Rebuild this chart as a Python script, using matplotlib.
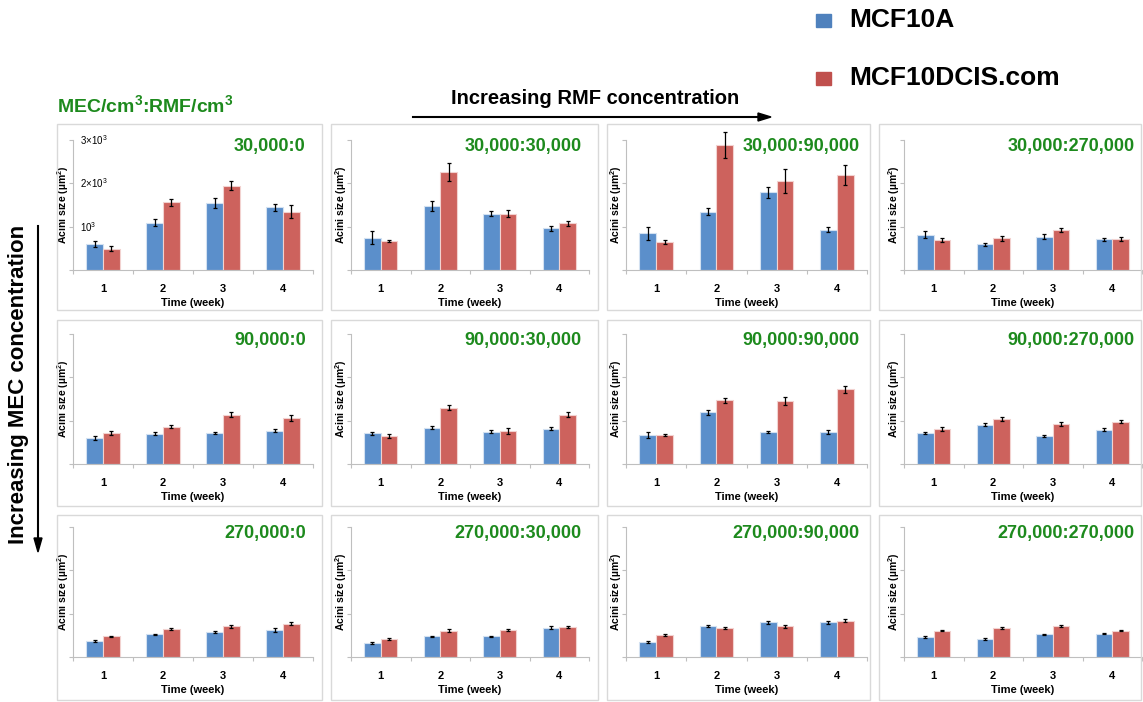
import matplotlib.pyplot as plt
from matplotlib.patches import Rectangle
import numpy as np

plt.rcParams['font.family'] = ['Liberation Sans', 'DejaVu Sans']
plt.rcParams['mathtext.fontset'] = 'custom'
plt.rcParams['mathtext.rm'] = 'Liberation Sans'
plt.rcParams['mathtext.bf'] = 'Liberation Sans:bold'

weeks = ['1', '2', '3', '4']
mec_levels = ['30,000', '90,000', '270,000']
rmf_levels = ['0', '30,000', '90,000', '270,000']

# mean acini size (um^2), one list per panel, rows = MEC, cols = RMF
mcf10a = [
    [[600, 1090, 1540, 1450], [750, 1480, 1300, 960], [850, 1350, 1790, 930], [810, 590, 770, 710]],
    [[600, 700, 720, 770], [710, 840, 750, 815], [670, 1190, 740, 740], [710, 910, 650, 790]],
    [[370, 520, 580, 620], [320, 480, 480, 680], [350, 720, 800, 800], [470, 420, 520, 540]],
]
mcf10a_err = [
    [[60, 80, 120, 80], [150, 120, 60, 60], [150, 80, 130, 60], [80, 30, 50, 30]],
    [[40, 30, 20, 40], [40, 30, 30, 40], [60, 50, 20, 40], [20, 40, 30, 30]],
    [[15, 20, 30, 40], [20, 15, 15, 30], [20, 30, 30, 30], [20, 20, 20, 20]],
]
dcis = [
    [[490, 1560, 1950, 1350], [670, 2260, 1300, 1080], [650, 2880, 2050, 2190], [690, 730, 920, 720]],
    [[720, 860, 1140, 1070], [650, 1300, 760, 1140], [670, 1470, 1460, 1730], [810, 1040, 920, 980]],
    [[480, 650, 710, 770], [410, 610, 620, 690], [510, 670, 710, 840], [610, 670, 720, 610]],
]
dcis_err = [
    [[60, 80, 100, 150], [30, 200, 80, 60], [40, 300, 270, 230], [40, 50, 50, 50]],
    [[50, 40, 50, 70], [40, 60, 70, 60], [20, 60, 90, 80], [40, 50, 50, 40]],
    [[15, 30, 30, 40], [20, 30, 30, 30], [20, 30, 30, 30], [20, 30, 30, 20]],
]

W, H = 1143, 702
fig = plt.figure(figsize=(W / 100, H / 100), dpi=100)


def fx(px):
    return px / W


def fy(py):
    return 1 - py / H


blue = '#5b8fcb'
red = '#cd625d'
green = '#1d8a1d'

ax_left = [73, 351, 626, 904]
ax_right = [313, 589, 867, 1142]
ax_top = [140, 334, 527]
ax_bottom = [270, 464, 657]
box_x = [(57, 322), (331, 598), (607, 870), (879, 1141)]
box_y = [(124, 310), (320, 506), (515, 700)]

x = np.arange(len(weeks))
bw = 0.28

for r in range(3):
    for c in range(4):
        x0, x1 = box_x[c]
        y0, y1 = box_y[r]
        fig.add_artist(Rectangle((fx(x0), fy(y1)), fx(x1 - x0), (y1 - y0) / H,
                                 transform=fig.transFigure, fill=False,
                                 edgecolor='#d9d9d9', linewidth=1))
        wpx = ax_right[c] - ax_left[c]
        ax = fig.add_axes([fx(ax_left[c]), fy(ax_bottom[r]), fx(wpx),
                           (ax_bottom[r] - ax_top[r]) / H])
        ax.bar(x - bw / 2, mcf10a[r][c], bw, color=blue, edgecolor='#d3e1f1', linewidth=0.8)
        ax.bar(x + bw / 2, dcis[r][c], bw, color=red, edgecolor='#f2d2d0', linewidth=0.8)
        ax.errorbar(x - bw / 2, mcf10a[r][c], yerr=mcf10a_err[r][c], fmt='none',
                    ecolor='black', elinewidth=0.9, capsize=1.5, capthick=0.9, clip_on=False)
        ax.errorbar(x + bw / 2, dcis[r][c], yerr=dcis_err[r][c], fmt='none',
                    ecolor='black', elinewidth=0.9, capsize=1.5, capthick=0.9, clip_on=False)
        ax.set_xlim(-0.5, 3.5)
        ax.set_ylim(0, 3000)
        ax.set_facecolor('none')
        for s in ['top', 'right']:
            ax.spines[s].set_visible(False)
        for s in ['left', 'bottom']:
            ax.spines[s].set_color('#bfbfbf')
            ax.spines[s].set_linewidth(0.8)
        ax.set_yticks([0, 1000, 2000, 3000])
        ax.set_yticklabels([])
        ax.tick_params(axis='y', length=3, color='#bfbfbf', width=0.8)
        ax.set_xticks(np.arange(-0.5, 4, 1), minor=False)
        ax.set_xticklabels([])
        ax.tick_params(axis='x', length=3, color='#bfbfbf', width=0.8)
        ax.set_xticks(x, minor=True)
        ax.set_xticklabels(weeks, minor=True, fontsize=8, fontweight='bold')
        ax.tick_params(axis='x', which='minor', length=0, pad=10)
        ax.set_xlabel('Time (week)', fontsize=8, fontweight='bold', labelpad=3)
        ax.set_ylabel(r'Acini size (µm$^\mathbf{2}$)', fontsize=7.5, fontweight='bold', va='center')
        ax.yaxis.set_label_coords(-10 / wpx, 0.5)
        ax.text(0.97, 0.95, mec_levels[r] + ':' + rmf_levels[c], transform=ax.transAxes,
                ha='right', va='center', fontsize=13, fontweight='bold', color=green)
        if r == 0 and c == 0:
            for val, lab in [(1000, r'10$^3$'), (2000, r'2×10$^3$'), (3000, r'3×10$^3$')]:
                ax.text(0.03, val, lab, transform=ax.get_yaxis_transform(),
                        ha='left', va='center', fontsize=7)

# headers and arrows
fig.text(fx(57), fy(106), r'MEC/cm$^\mathbf{3}$:RMF/cm$^\mathbf{3}$', fontsize=14,
         fontweight='bold', color=green, ha='left', va='center')
fig.text(fx(595), fy(99), 'Increasing RMF concentration', fontsize=14.5, fontweight='bold',
         ha='center', va='center')
fig.add_artist(plt.Line2D([fx(413), fx(760)], [fy(117), fy(117)], color='black', linewidth=1.5))
fig.patches.append(plt.Polygon([[fx(758), fy(113)], [fx(771), fy(117)], [fx(758), fy(121)]],
                               closed=True, color='black', transform=fig.transFigure))
fig.text(fx(19), fy(384), 'Increasing MEC concentration', fontsize=16, fontweight='bold',
         rotation=90, ha='center', va='center')
fig.add_artist(plt.Line2D([fx(38), fx(38)], [fy(226), fy(540)], color='black', linewidth=1.5))
fig.patches.append(plt.Polygon([[fx(34), fy(538)], [fx(38), fy(552)], [fx(42), fy(538)]],
                               closed=True, color='black', transform=fig.transFigure))

# legend
fig.add_artist(Rectangle((fx(816), fy(27)), fx(15), 13 / H, transform=fig.transFigure,
                         color='#4f81bd'))
fig.text(fx(849), fy(20), 'MCF10A', fontsize=19, fontweight='bold', ha='left', va='center')
fig.add_artist(Rectangle((fx(816), fy(85)), fx(15), 13 / H, transform=fig.transFigure,
                         color='#c0504d'))
fig.text(fx(849), fy(78), 'MCF10DCIS.com', fontsize=19, fontweight='bold', ha='left', va='center')

plt.savefig('out.png', dpi=100)
